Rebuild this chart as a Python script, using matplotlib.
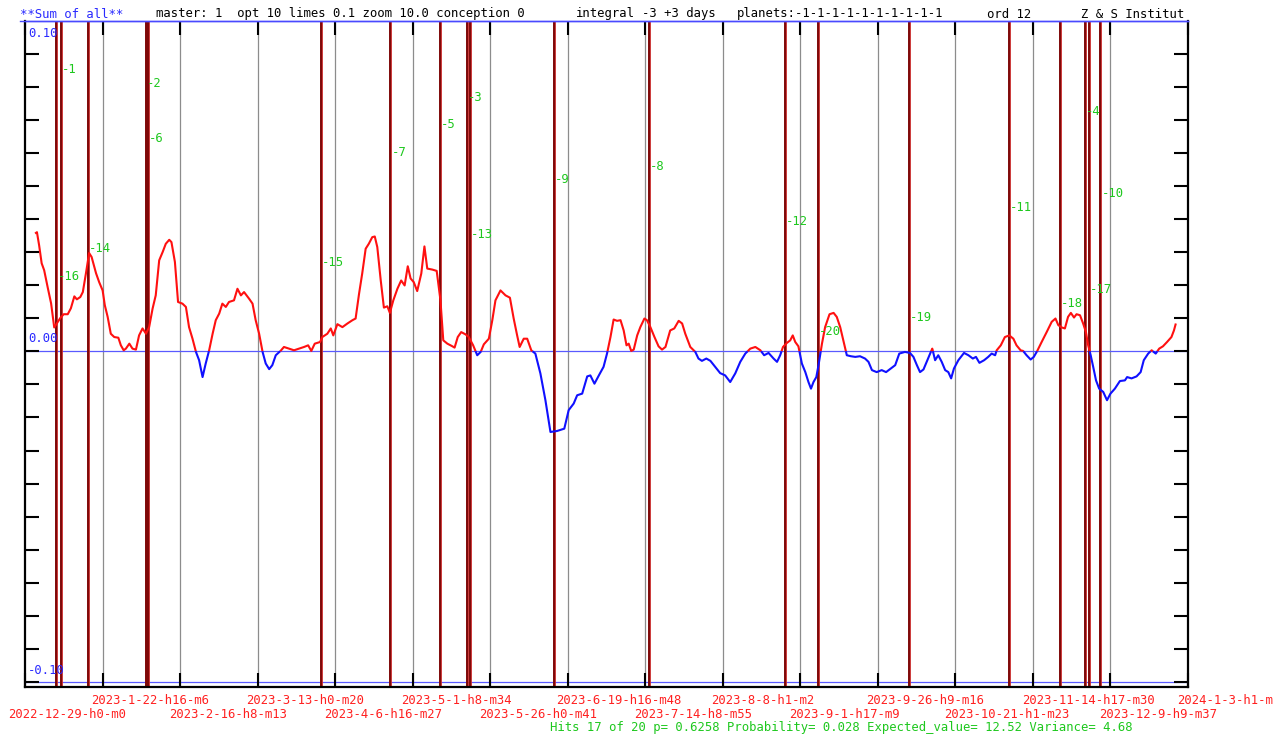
import numpy as np
import matplotlib
matplotlib.use("Agg")
import matplotlib.pyplot as plt
from matplotlib import transforms
from matplotlib.lines import Line2D

# ---------------- data ----------------
STEP = 24.67134  # days between date labels
date_labels = ["2022-12-29-h0-m0", "2023-1-22-h16-m6", "2023-2-16-h8-m13", "2023-3-13-h0-m20",
               "2023-4-6-h16-m27", "2023-5-1-h8-m34", "2023-5-26-h0-m41", "2023-6-19-h16-m48",
               "2023-7-14-h8-m55", "2023-8-8-h1-m2", "2023-9-1-h17-m9", "2023-9-26-h9-m16",
               "2023-10-21-h1-m23", "2023-11-14-h17-m30", "2023-12-9-h9-m37", "2024-1-3-h1-m"]

curve_day = [3.2, 3.8, 4.5, 5.3, 6.1, 7.2, 8.3, 9.3, 10.2, 11.2, 12.3, 13.6, 14.6, 15.7, 16.5, 17.6,
             18.4, 19.4, 20.4, 21.2, 22.6, 23.6, 24.7, 25.4, 26.3, 27.3, 28.4, 29.7, 30.5, 31.4, 32.1,
             33.2, 34.2, 35.3, 36.3, 37.4, 38.5, 39.5, 40.6, 41.6, 42.7, 43.8, 44.8, 45.9, 46.6, 47.7,
             48.7, 50.1, 51.2, 52.2, 53.3, 54.4, 55.4, 56.5, 57.5, 58.6, 59.7, 60.7, 61.8, 62.8, 63.9,
             64.9, 66.5, 67.6, 68.7, 69.7, 71.3, 72.4, 73.4, 74.5, 75.6, 76.6, 77.7, 78.7, 79.8, 81.4,
             82.4, 84.0, 85.6, 87.2, 88.8, 90.1, 91.1, 92.2, 93.9, 94.6, 96.2, 97.3, 98.1, 99.4, 101.0,
             102.6, 104.2, 105.2, 106.3, 107.3, 108.4, 109.4, 110.5, 111.3, 112.1, 113.2, 114.2, 115.3,
             116.1, 117.2, 118.5, 119.7, 120.8, 121.8, 122.7, 123.7, 124.8, 126.1, 127.1, 128.0, 129.6,
             131.0, 132.2, 133.1, 134.4, 136.0, 136.7, 137.7, 138.8, 140.2, 141.2, 142.6, 143.9, 145.0,
             146.0, 147.6, 148.7, 149.7, 151.3, 152.9, 154.3, 155.5, 156.6, 157.4, 158.7, 159.8, 161.1,
             162.4, 164.0, 165.6, 167.2, 169.3, 171.6, 173.0, 174.6, 175.7, 177.3, 178.9, 179.9, 181.2,
             182.6, 184.1, 185.2, 186.3, 187.3, 188.4, 189.5, 190.5, 191.4, 192.1, 192.9, 193.7, 194.8,
             195.8, 197.1, 197.9, 199.0, 200.3, 201.6, 202.7, 203.8, 205.3, 206.6, 208.0, 209.1, 210.1,
             211.7, 213.3, 214.3, 215.4, 216.8, 218.1, 219.6, 221.2, 222.8, 224.4, 226.0, 227.6, 229.2,
             230.8, 232.4, 234.0, 235.2, 236.6, 238.2, 239.3, 240.3, 241.2, 242.4, 243.5, 244.3, 245.1,
             246.1, 247.2, 248.3, 249.3, 250.1, 250.9, 251.8, 252.5, 253.6, 254.6, 256.0, 257.3, 258.3,
             259.4, 260.4, 261.5, 262.8, 264.2, 265.7, 267.3, 268.4, 269.5, 271.0, 272.6, 274.0, 275.5,
             276.9, 278.2, 280.0, 281.6, 282.7, 283.8, 284.8, 285.9, 286.9, 288.0, 288.7, 289.6, 290.6,
             291.7, 292.8, 293.8, 294.7, 295.6, 297.0, 298.8, 300.2, 301.6, 302.6, 303.7, 305.2, 306.5,
             307.6, 308.7, 309.2, 310.5, 311.8, 313.2, 314.5, 315.5, 316.8, 317.6, 318.7, 320.0, 321.0,
             322.1, 323.5, 325.1, 326.7, 327.9, 328.8, 329.9, 330.9, 331.9, 332.8, 333.8, 334.6, 335.7,
             336.7, 337.6, 338.3, 339.1, 339.9, 340.8, 341.8, 343.1, 344.3, 345.4, 346.8, 348.4, 350.0,
             350.7, 352.1, 353.7, 355.0, 356.0, 357.4, 358.5, 359.8, 360.9, 362.1, 363.4, 364.8, 365.6,
             366.2]

curve_val = [.0356, .0360, .0320, .0266, .0245, .0194, .0145, .0072, .0085, .0100, .0112, .0112, .0130,
             .0166, .0157, .0164, .0179, .0236, .0297, .0285, .0236, .0209, .0184, .0139, .0104, .0053,
             .0043, .0041, .0018, .0003, .0008, .0023, .0008, .0005, .0048, .0069, .0053, .0073, .0129,
             .0169, .0275, .0300, .0325, .0337, .0330, .0270, .0149, .0144, .0134, .0073, .0038, -.0002,
             -.0027, -.0078, -.0037, .0003, .0053, .0094, .0114, .0144, .0134, .0149, .0154, .0189,
             .0169, .0179, .0159, .0144, .0094, .0053, -.0002, -.0037, -.0054, -.0042, -.0012, .0002,
             .0013, .0008, .0003, .0008, .0013, .0018, .0001, .0023, .0028, .0043, .0053, .0069, .0048,
             .0082, .0073, .0084, .0094, .0099, .0174, .0235, .0310, .0325, .0345, .0347, .0315, .0214,
             .0132, .0136, .0116, .0154, .0189, .0214, .0199, .0257, .0220, .0209, .0182, .0235, .0317,
             .0250, .0247, .0243, .0154, .0033, .0023, .0015, .0011, .0043, .0058, .0051, .0043, .0018,
             -.0012, -.0002, .0021, .0038, .0094, .0154, .0184, .0169, .0162, .0099, .0048, .0013, .0038,
             .0038, .0003, -.0007, -.0067, -.0148, -.0244, -.0241, -.0234, -.0178, -.0158, -.0133,
             -.0128, -.0076, -.0073, -.0098, -.0073, -.0047, -.0007, .0043, .0096, .0092, .0094, .0063,
             .0018, .0023, .0001, .0005, .0048, .0073, .0099, .0094, .0073, .0043, .0015, .0005, .0013,
             .0063, .0069, .0092, .0084, .0053, .0013, -.0002, -.0022, -.0029, -.0022, -.0029, -.0047,
             -.0066, -.0073, -.0093, -.0067, -.0032, -.0007, .0008, .0013, .0003, -.0012, -.0005,
             -.0022, -.0032, -.0012, .0013, .0025, .0033, .0048, .0028, .0015, -.0037, -.0063, -.0093,
             -.0113, -.0093, -.0078, -.0042, .0023, .0073, .0112, .0116, .0104, .0073, .0033, -.0012,
             -.0015, -.0017, -.0015, -.0022, -.0032, -.0057, -.0063, -.0057, -.0063, -.0052, -.0042,
             -.0007, -.0002, -.0005, -.0017, -.0042, -.0063, -.0055, -.0032, -.0007, .0008, -.0027,
             -.0012, -.0032, -.0057, -.0063, -.0082, -.0052, -.0027, -.0005, -.0012, -.0022, -.0017,
             -.0035, -.0027, -.0017, -.0007, -.0012, .0003, .0018, .0043, .0048, .0038, .0018, .0003,
             .0001, -.0012, -.0025, -.0017, .0001, .0028, .0058, .0089, .0099, .0079, .0072, .0069,
             .0104, .0116, .0102, .0112, .0109, .0084, .0058, .0018, -.0012, -.0047, -.0088, -.0113,
             -.0123, -.0148, -.0128, -.0113, -.0090, -.0088, -.0078, -.0082, -.0076, -.0063, -.0027,
             -.0007, .0003, -.0007, .0008, .0015, .0028, .0043, .0063, .0084]

event_day = [10.0, 11.3, 20.0, 38.6, 39.0, 94.3, 116.3, 132.1, 140.6, 141.5,
             168.2, 198.4, 241.9, 252.4, 281.2, 313.2, 329.4, 337.3, 338.5, 342.2]
event_num = [16, 1, 14, 2, 6, 15, 7, 5, 3, 13, 9, 8, 12, 20, 19, 11, 18, 4, 17, 10]

header_parts = [("**Sum of all**", 20, "#2a2aff"),
                ("master: 1  opt 10 limes 0.1 zoom 10.0 conception 0", 156, "black"),
                ("integral", 576, "black"),
                ("-3 +3 days", 642, "black"),
                ("planets:-1-1-1-1-1-1-1-1-1-1", 737, "black"),
                ("ord 12", 987, "black"),
                ("Z & S Institut", 1081, "black")]
footer = "Hits 17 of 20 p= 0.6258 Probability= 0.028 Expected_value= 12.52 Variance= 4.68"

# ---------------- figure ----------------
W, H = 1279, 734
MONO = "DejaVu Sans Mono"
FS = 8.85
RED_T = "#ff2020"
GREEN = "#1ec81e"
BLUE_T = "#2a2aff"

fig = plt.figure(figsize=(W / 100, H / 100), dpi=100)
fig.patch.set_facecolor("white")
L, R, T, B = 25, 1188, 20.5, 687
ax = fig.add_axes([L / W, (H - B) / H, (R - L) / W, (B - T) / H])
xmax = 15 * STEP
ax.set_xlim(0, xmax)
ax.set_ylim(-0.1015, 0.1)

for s in ("left", "bottom", "right"):
    ax.spines[s].set_color("black")
    ax.spines[s].set_linewidth(1.6)
ax.spines["top"].set_color("#4a4aff")
ax.spines["top"].set_linewidth(1.0)

grid = [k * STEP for k in range(16)]
ax.set_xticks(grid)
ax.tick_params(axis="x", direction="in", length=10, width=1.5, top=True, bottom=True,
               labelbottom=False, color="black")
ax.set_yticks(np.round(np.arange(-0.10, 0.095, 0.01), 2))
ax.tick_params(axis="y", direction="in", length=10, width=1.5, left=True, right=True,
               labelleft=False, color="black")

for g in grid[1:-1]:
    ax.axvline(g, color="#8c8c8c", lw=0.9, zorder=1)

ax.axhline(0.0, color="#5a5aff", lw=0.9, zorder=1.5)
ax.axhline(-0.10, color="#5a5aff", lw=0.9, zorder=1.5)

# event lines
for d in event_day:
    ax.axvline(d, color="#c82828", lw=2.0, zorder=2)
    ax.axvline(d, color="#6a0000", lw=1.1, zorder=2.1)

# event labels
lab_tr = transforms.offset_copy(ax.transData, fig=fig, x=1, y=0, units="dots")
for d, n in zip(event_day, event_num):
    yv = 0.1 - (35.75 + 13.75 * n) / 3307.7
    ax.text(d, yv, f"-{n}", color=GREEN, fontsize=FS, family=MONO, va="center", ha="left",
            transform=lab_tr, zorder=4)

# curve split by sign
x = np.asarray(curve_day, float)
y = np.asarray(curve_val, float)
xs, ys = [x[0]], [y[0]]
for i in range(1, len(x)):
    if y[i - 1] * y[i] < 0:
        t = y[i - 1] / (y[i - 1] - y[i])
        xs.append(x[i - 1] + t * (x[i] - x[i - 1]))
        ys.append(0.0)
    xs.append(x[i]); ys.append(y[i])
xs = np.array(xs); ys = np.array(ys)
ax.plot(xs, np.where(ys >= 0, ys, np.nan), color="#ff1010", lw=1.5, zorder=3, solid_capstyle="butt")
ax.plot(xs, np.where(ys <= 0, ys, np.nan), color="#1010ff", lw=1.5, zorder=3, solid_capstyle="butt")

# y labels
ytr = ax.get_yaxis_transform()
for val, dy, s in [(0.10, -16.5, "0.10"), (0.0, 8.8, "0.00"), (-0.10, 8.5, "-0.10")]:
    tr = transforms.offset_copy(ytr, fig=fig, x=3, y=dy, units="dots")
    ax.text(0, val, s, color=BLUE_T, fontsize=FS, family=MONO, ha="left", va="baseline",
            transform=tr, zorder=5)

# header
for s, px, c in header_parts:
    fig.text(px / W, 1 - 17.5 / H, s, color=c, fontsize=FS, family=MONO, ha="left", va="baseline")
fig.add_artist(Line2D([20 / W, R / W], [1 - T / H, 1 - T / H], color="#4a4aff", lw=1.0))

# date labels
btr = transforms.blended_transform_factory(ax.transData, fig.transFigure)
for k, (g, s) in enumerate(zip(grid, date_labels)):
    off = -16.5 if k == 0 else -11.3
    tr = btr + transforms.ScaledTranslation(off / 100, 0, fig.dpi_scale_trans)
    ybase = 704.5 if k % 2 == 1 else 717.5
    fig.text(g, 1 - ybase / H, s, color=RED_T, fontsize=FS, family=MONO, ha="left",
             va="baseline", transform=tr)

fig.text(550.5 / W, 1 - 730.5 / H, footer, color=GREEN, fontsize=FS, family=MONO,
         ha="left", va="baseline")

fig.savefig("out.png", dpi=100, facecolor="white")
